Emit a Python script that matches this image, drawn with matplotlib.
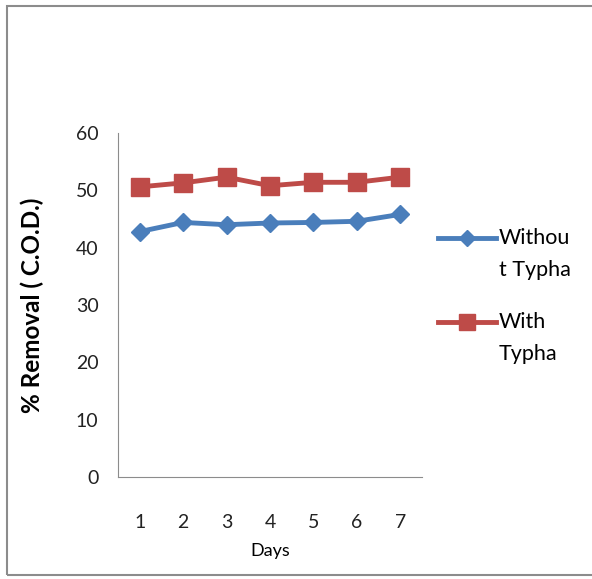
import matplotlib
matplotlib.use('Agg')
import matplotlib.pyplot as plt
from matplotlib.patches import Rectangle

days = [1, 2, 3, 4, 5, 6, 7]
without_typha = [42.8, 44.4, 44.0, 44.3, 44.4, 44.6, 45.8]
with_typha = [50.6, 51.3, 52.3, 50.8, 51.4, 51.4, 52.3]
# leading blank line so the handle sits level with the first text line, as in the source
labels = ['\nWithou\nt Typha', '\nWith\nTypha']

plt.rcParams['font.family'] = ['Lato', 'DejaVu Sans']

fig = plt.figure(figsize=(5.92, 5.79), dpi=100)
fig.patches.append(Rectangle((0.011, 0.007), 1.2, 0.982, transform=fig.transFigure,
                             fill=False, edgecolor='#8c8c8c', lw=1.5))
ax = fig.add_axes([0.1993, 0.1762, 0.5135, 0.5941])

ax.plot(days, without_typha, color='#4a7ebb', lw=3.5, marker='D', ms=9, label=labels[0])
ax.plot(days, with_typha, color='#be4b48', lw=3.5, marker='s', ms=13, label=labels[1])

ax.set_xlim(0.5, 7.5)
ax.set_ylim(0, 60)
ax.set_yticks(range(0, 61, 10))
ax.set_xticks(days)
ax.tick_params(length=0, labelsize=14, colors='#222222')
ax.tick_params(axis='x', pad=27)
ax.tick_params(axis='y', pad=14)
for s in ['top', 'right']:
    ax.spines[s].set_visible(False)
for s in ['left', 'bottom']:
    ax.spines[s].set_color('#8c8c8c')
ax.set_ylabel('% Removal ( C.O.D.)', fontsize=17.5, fontweight='bold', labelpad=23)
ax.set_xlabel('Days', fontsize=13, family=['Liberation Sans Narrow', 'Lato', 'DejaVu Sans'], labelpad=8)

leg = ax.legend(loc='upper left', bbox_to_anchor=(0.99, 0.874), frameon=False, fontsize=15.5,
                handlelength=2.7, labelspacing=0.0, handletextpad=0.1, markerscale=0.85)
for t in leg.get_texts():
    t.set_linespacing(1.75)

fig.savefig('out.png', dpi=100)
